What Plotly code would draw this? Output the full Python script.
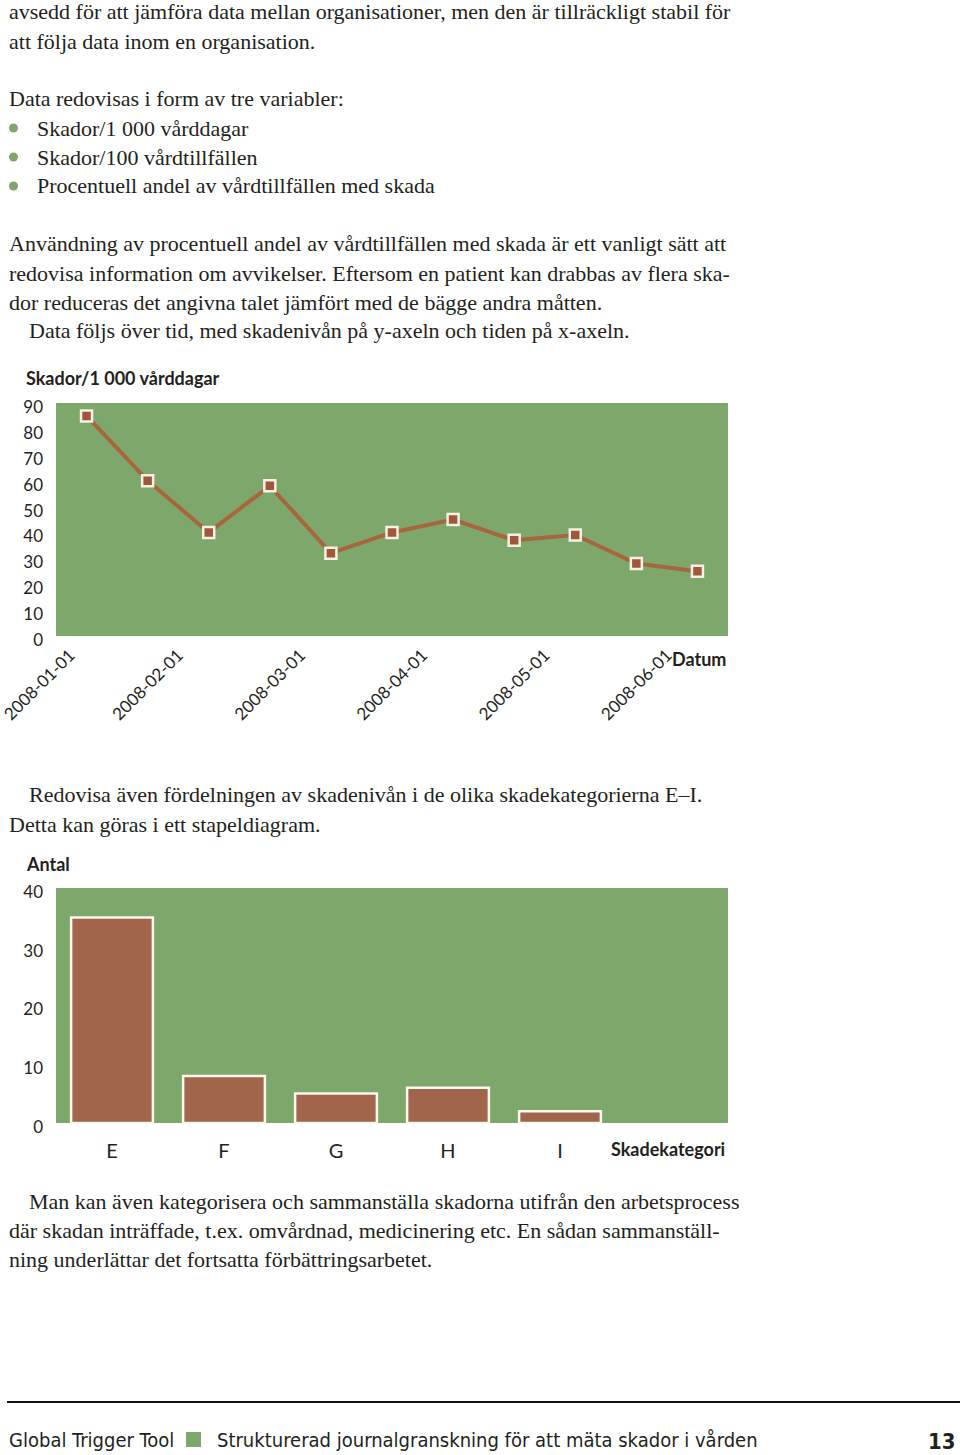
import plotly.graph_objects as go

# ---------------- data ----------------
line_values = [85, 60, 40, 58, 32, 40, 45, 37, 39, 28, 25]          # Skador/1 000 vårddagar
date_labels = ["2008-01-01", "2008-02-01", "2008-03-01", "2008-04-01", "2008-05-01", "2008-06-01"]
bar_categories = ["E", "F", "G", "H", "I"]
bar_counts = [35, 8, 5, 6, 2]                                        # Antal

W, H = 960, 1455
GREEN = "#7ea86b"
INK = "#231f20"
SERIF = "Liberation Serif, DejaVu Serif, serif"
SANS = "Lato, Open Sans, sans-serif"
NARROW = "Liberation Sans Narrow, DejaVu Sans Condensed, Roboto, sans-serif"


def px(x):
    return x / W


def py(y):
    return 1 - y / H


fig = go.Figure()

# line chart
n_line = len(line_values)
fig.add_trace(go.Scatter(
    x=[i + 0.5 for i in range(n_line)], y=line_values,
    mode="lines+markers", xaxis="x", yaxis="y",
    line=dict(color="#a8663f", width=4),
    marker=dict(symbol="square", size=11, color="#a0573a",
                line=dict(color="#f5f1e4", width=2.5)),
    showlegend=False, hoverinfo="x+y",
))

# bar chart
fig.add_trace(go.Bar(
    x=[i + 0.5 for i in range(len(bar_counts))], y=bar_counts,
    xaxis="x2", yaxis="y2", width=0.73,
    marker=dict(color="#a0654a", line=dict(color="#fbf8ef", width=2.5)),
    showlegend=False,
))

# date labels sit on every second period boundary; the first one is nudged
# inwards (as in the original) so it stays inside the page
label_pos = [2 * k for k in range(len(date_labels))]
label_pos[0] = 0.23

xdom = [px(56), px(728)]
ydom1 = [py(636), py(403)]
ydom2 = [py(1123), py(888)]
grid_col = "rgba(235,245,228,0.75)"

common = dict(automargin=False, zeroline=False, fixedrange=True)
tick_font = dict(family=SANS, size=17, color=INK)

fig.update_layout(
    width=W, height=H, autosize=False,
    margin=dict(l=0, r=0, t=0, b=0, pad=0),
    paper_bgcolor="white", plot_bgcolor=GREEN,
    # line chart axes
    xaxis=dict(domain=xdom, anchor="y", range=[0, n_line],
               tickmode="array", tickvals=label_pos, ticktext=date_labels,
               ticks="", tickangle=-45, tickfont=tick_font,
               ticklabelstandoff=5, ticklabeloverflow="allow",
               showgrid=False, showline=False, **common),
    xaxis3=dict(overlaying="x", anchor="y", range=[0, n_line],
                tickmode="array", tickvals=list(range(1, n_line)),
                ticks="inside", ticklen=5, tickwidth=2, tickcolor="white",
                showticklabels=False, showgrid=False, **common),
    yaxis=dict(domain=ydom1, anchor="x", range=[0, 90],
               tickmode="array", tickvals=list(range(0, 91, 10)),
               tickfont=tick_font, ticklabelshift=4,
               ticklabelstandoff=12, showgrid=False, **common),
    yaxis3=dict(overlaying="y", anchor="x", range=[0, 90],
                tickmode="array", tickvals=list(range(10, 90, 10)),
                showticklabels=False, showgrid=True, gridcolor=grid_col, gridwidth=1.5,
                **common),
    # bar chart axes
    xaxis2=dict(domain=xdom, anchor="y2", range=[0, 6],
                tickmode="array", tickvals=[i + 0.5 for i in range(len(bar_categories))],
                ticktext=bar_categories, ticks="",
                tickfont=dict(family=SANS, size=20, color=INK), ticklabelstandoff=14,
                showgrid=False, showline=False, **common),
    xaxis4=dict(overlaying="x2", anchor="y2", range=[0, 6],
                tickmode="array", tickvals=list(range(1, 7)),
                ticks="inside", ticklen=5, tickwidth=2, tickcolor="white",
                showticklabels=False, showgrid=False, **common),
    yaxis2=dict(domain=ydom2, anchor="x2", range=[0, 40],
                tickmode="array", tickvals=list(range(0, 41, 10)),
                tickfont=tick_font, ticklabelshift=4,
                ticklabelstandoff=12, showgrid=False, **common),
    yaxis4=dict(overlaying="y2", anchor="x2", range=[0, 40],
                tickmode="array", tickvals=list(range(10, 41, 10)),
                showticklabels=False, showgrid=True, gridcolor=grid_col, gridwidth=1.5,
                **common),
)

ann = []


def text(x, y, s, size=22, family=SERIF, anchor="left", bold=False, color=INK):
    if bold:
        s = "<b>" + s + "</b>"
    ann.append(dict(x=px(x), y=py(y), xref="paper", yref="paper", text=s,
                    showarrow=False, xanchor=anchor, yanchor="middle",
                    font=dict(family=family, size=size, color=color)))


body = [
    (7, 12, "avsedd för att jämföra data mellan organisationer, men den är tillräckligt stabil för"),
    (7, 41, "att följa data inom en organisation."),
    (7, 99, "Data redovisas i form av tre variabler:"),
    (35, 128, "Skador/1 000 vårddagar"),
    (35, 157, "Skador/100 vårdtillfällen"),
    (35, 186, "Procentuell andel av vårdtillfällen med skada"),
    (7, 244, "Användning av procentuell andel av vårdtillfällen med skada är ett vanligt sätt att"),
    (7, 273, "redovisa information om avvikelser. Eftersom en patient kan drabbas av flera ska-"),
    (7, 302, "dor reduceras det angivna talet jämfört med de bägge andra måtten."),
    (27, 331, "Data följs över tid, med skadenivån på y-axeln och tiden på x-axeln."),
    (27, 795, "Redovisa även fördelningen av skadenivån i de olika skadekategorierna E–I."),
    (7, 824, "Detta kan göras i ett stapeldiagram."),
    (27, 1201, "Man kan även kategorisera och sammanställa skadorna utifrån den arbetsprocess"),
    (7, 1230, "där skadan inträffade, t.ex. omvårdnad, medicinering etc. En sådan sammanställ-"),
    (7, 1259, "ning underlättar det fortsatta förbättringsarbetet."),
]
for x, y, s in body:
    text(x, y, s)

# chart titles
text(24, 378, "Skador/1 000 vårddagar", size=18, family=SANS, bold=True)
text(728, 659, "Datum", size=18, family=SANS, bold=True, anchor="right")
text(24, 864, "Antal", size=18, family=SANS, bold=True)
text(727, 1149, "Skadekategori", size=18, family=SANS, bold=True, anchor="right")

# footer
text(7, 1440, "Global Trigger Tool", size=20, family=NARROW)
text(215, 1440, "Strukturerad journalgranskning för att mäta skador i vården", size=20, family=NARROW)
text(958, 1441, "13", size=22, family=NARROW, bold=True, anchor="right")

fig.update_layout(annotations=ann)

shapes = []
for by in (128, 157, 186):
    shapes.append(dict(type="circle", xref="paper", yref="paper",
                       x0=px(9), x1=px(18), y0=py(by - 4.5), y1=py(by + 4.5),
                       fillcolor=GREEN, line=dict(width=0)))
shapes.append(dict(type="line", xref="paper", yref="paper",
                   x0=px(7), x1=px(960), y0=py(1402), y1=py(1402),
                   line=dict(color="#111", width=2)))
shapes.append(dict(type="rect", xref="paper", yref="paper",
                   x0=px(186), x1=px(201), y0=py(1447), y1=py(1432),
                   fillcolor=GREEN, line=dict(width=0)))
fig.update_layout(shapes=shapes)

fig.write_html(
    "out.html",
    config={"displayModeBar": False},
    post_script="document.body.style.margin='0';document.body.style.overflow='hidden';",
)
